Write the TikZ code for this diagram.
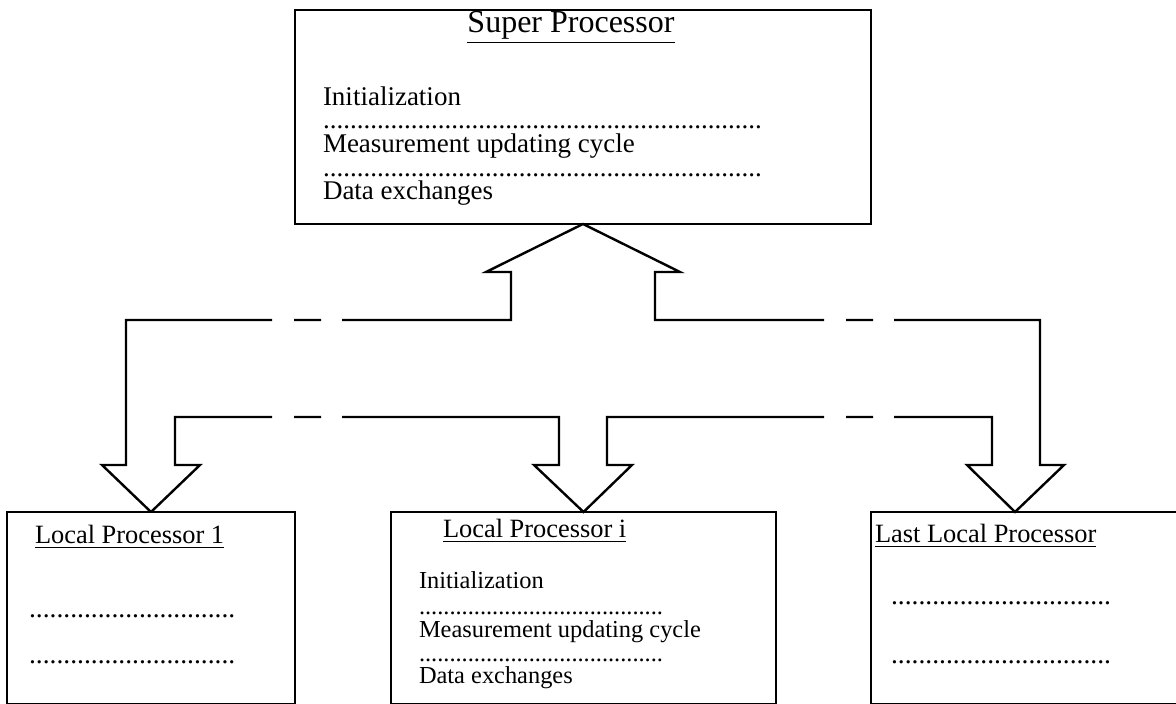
\documentclass[tikz,border=0pt]{standalone}
\usepackage{fontspec}
\setmainfont{Liberation Serif}
\usetikzlibrary{positioning}
\tikzset{every node/.append style={inner sep=0pt, outer sep=0pt}}
\tikzset{procbox/.style={draw, line width=1.1pt, rectangle}}
\tikzset{bigarrow/.style={draw, line width=1.2pt, miter limit=20}}
\tikzset{suptitle/.style={font=\fontsize{16}{19}\selectfont}}
\tikzset{suptext/.style={font=\fontsize{13.5}{16}\selectfont, anchor=base west}}
\tikzset{loctitle/.style={font=\fontsize{13.2}{16}\selectfont, anchor=base west}}
\tikzset{loctext/.style={font=\fontsize{12.2}{15}\selectfont, anchor=base west}}
\tikzset{locdots/.style={font=\fontsize{13.75}{16}\selectfont, anchor=base west}}
\tikzset{dotline/.style={text height=1.5pt, text depth=0pt}}
\newcommand{\dotrow}[1]{\foreach \k in {1,...,#1}{.}}

\begin{document}
\begin{tikzpicture}[x=0.5pt, y=-0.5pt]
\useasboundingbox (0,0) rectangle (1176,704);
\clip (0,0) rectangle (1176,704);
% the boxes
\node[procbox, minimum width=288pt, minimum height=107pt] (super) at (583,117) {};
\node[procbox, minimum width=144pt, minimum height=96pt] (loc1) at (151,608) {};
\node[procbox, minimum width=192.5pt, minimum height=96pt] (loci) at (583.5,608) {};
\node[procbox, minimum width=164.5pt, minimum height=96pt] (last) at (1035.5,608) {};
\coordinate (lastin) at (1015,512);
% super processor text
\node[suptitle, anchor=base] (suphead) at (571,33) {\underline{Super Processor}};
\node[suptext] (supinit) at (323,106) {Initialization};
\node[suptext, dotline] (supdotA) at (323,129) {\dotrow{65}};
\node[suptext] (supmeas) at (323,153) {Measurement updating cycle};
\node[suptext, dotline] (supdotB) at (323,177) {\dotrow{65}};
\node[suptext] (supdata) at (323,200) {Data exchanges};
% local processors
\node[loctitle] (onehead) at (35,544) {\underline{Local Processor 1}};
\node[locdots, dotline] (onedotA) at (29,617) {\dotrow{30}};
\node[locdots, dotline] (onedotB) at (29,663) {\dotrow{30}};
\node[loctitle] (ihead) at (443,538) {\underline{Local Processor i}};
\node[loctext] (iinit) at (419,588) {Initialization};
\node[loctext, dotline] (idotA) at (419,614) {\dotrow{40}};
\node[loctext] (imeas) at (419,637) {Measurement updating cycle};
\node[loctext, dotline] (idotB) at (419,661) {\dotrow{40}};
\node[loctext] (idata) at (419,683) {Data exchanges};
\node[loctitle] (lasthead) at (875,543) {\underline{Last Local Processor}};
\node[locdots, dotline] (lastdotA) at (891,604) {\dotrow{32}};
\node[locdots, dotline] (lastdotB) at (891,663) {\dotrow{32}};
% block arrows
\draw[bigarrow] (loc1.north) -- (102,465) -- (126,465) -- (126,320) -- (272,320)
 (294,320) -- (321,320)
 (342,320) -- (511,320) -- (511,272) -- (486,272) -- (super.south) -- (680,272) -- (655,272) -- (655,320) -- (824,320)
 (846,320) -- (873,320)
 (894,320) -- (1040,320) -- (1040,465) -- (1064,465) -- (lastin) -- (967,465) -- (992,465) -- (992,417) -- (894,417)
 (873,417) -- (846,417)
 (824,417) -- (607,417) -- (607,465) -- (632,465) -- (loci.north) -- (534,465) -- (559,465) -- (559,417) -- (342,417)
 (321,417) -- (294,417)
 (272,417) -- (175,417) -- (175,465) -- (200,465) -- (loc1.north);
\end{tikzpicture}
\end{document}
